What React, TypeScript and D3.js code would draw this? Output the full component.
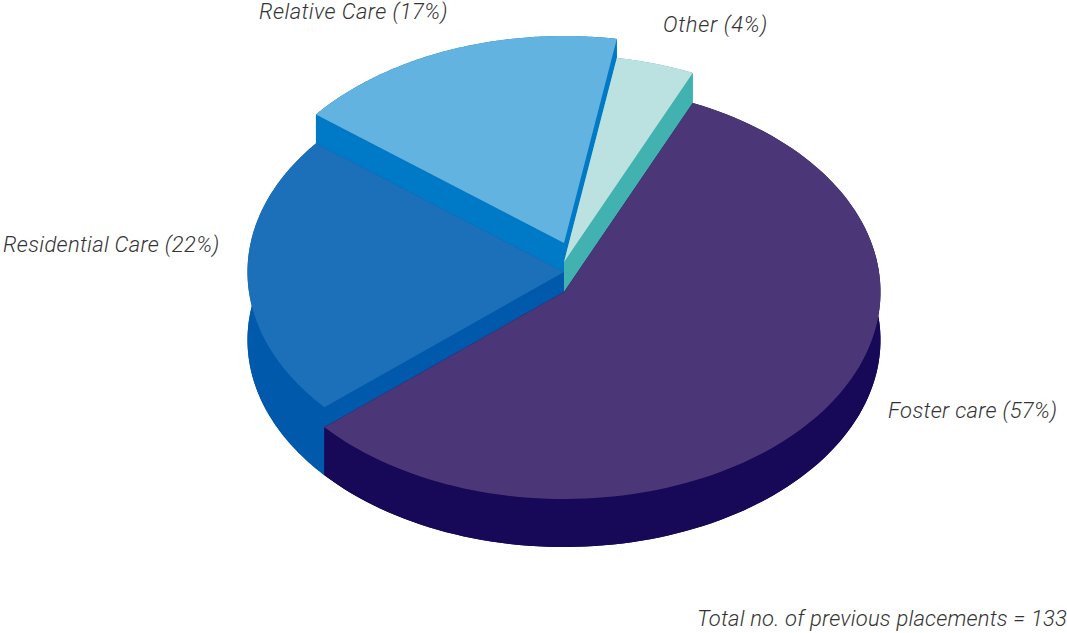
import React from "react";
import * as d3 from "d3";

// Share of previous placements by type, clockwise from the top of the pie.
const categories = ["Other", "Foster care", "Residential Care", "Relative Care"];
const shares = [4, 57, 22, 17];
const sliceLabels = ["Other (4%)", "Foster care (57%)", "Residential Care (22%)", "Relative Care (17%)"];
const footnote = "Total no. of previous placements = 133";

const topColours = ["#bbe2e0", "#4b3778", "#1c70ba", "#63b3e0"];
const sideColours = ["#41b2b0", "#170858", "#0059ab", "#0079c6"];
// How far each slice is pulled upward along the page, in px.
const lifts = [30, 0, 20, 49];
const labelAnchors: [number, number][] = [[663, 32], [888, 418], [3, 252], [259, 19]];
const labelSpacing = [0.7, 0.32, 0.3, 0.42];

const WIDTH = 1067;
const HEIGHT = 633;
const CX = 564;
const CY = 292;
const RX = 316.5;
const RY = 207;
const DEPTH = 48;
const START = (9.6 * Math.PI) / 180;

const slices = d3
  .pie<number>()
  .sort(null)
  .startAngle(START)
  .endAngle(START + 2 * Math.PI)(shares);

const line = d3.line();

// Ellipse point for a pie angle measured clockwise from twelve o'clock.
const onRim = (a: number, dy: number): [number, number] => [
  CX + RX * Math.sin(a),
  CY + dy - RY * Math.cos(a),
];

const rim = (a0: number, a1: number, dy: number) =>
  d3.range(0, 121).map((i) => onRim(a0 + ((a1 - a0) * i) / 120, dy));

const sector = (a0: number, a1: number, dy: number) =>
  line([[CX, CY + dy], ...rim(a0, a1, dy)]) + "Z";

const wall = (a0: number, a1: number, dy: number) =>
  line([...rim(a0, a1, dy), ...rim(a0, a1, DEPTH).reverse()]) + "Z";

const radialWall = (a: number, dy: number) =>
  line([[CX, CY + dy], onRim(a, dy), onRim(a, DEPTH), [CX, CY + DEPTH]]) + "Z";

// Painted back to front so nearer slices cover the walls of those behind.
// Every wall runs down to the same base plane, whatever the slice's lift.
const paintOrder = [3, 0, 2, 1];

const textStyle: React.CSSProperties = {
  fontFamily: "Roboto, 'Liberation Sans', sans-serif",
  fontStyle: "italic",
  fontWeight: 300,
  fontSize: 22,
  letterSpacing: 0.2,
  fill: "#333333",
};

export default function App() {
  return (
    <svg
      width={WIDTH}
      height={HEIGHT}
      viewBox={`0 0 ${WIDTH} ${HEIGHT}`}
      style={{ position: "absolute", left: 0, top: 0, background: "#fff" }}
    >
      {paintOrder.map((i) => {
        const s = slices[i];
        const dy = -lifts[i];
        const side = sideColours[i];
        return (
          <g key={categories[i]}>
            <path d={sector(s.startAngle, s.endAngle, DEPTH)} fill={side} />
            <path d={wall(s.startAngle, s.endAngle, dy)} fill={side} />
            <path d={radialWall(s.startAngle, dy)} fill={side} />
            <path d={radialWall(s.endAngle, dy)} fill={side} />
            <path d={sector(s.startAngle, s.endAngle, dy)} fill={topColours[i]} />
          </g>
        );
      })}
      {sliceLabels.map((t, i) => (
        <text
          key={t}
          x={labelAnchors[i][0]}
          y={labelAnchors[i][1]}
          style={{ ...textStyle, letterSpacing: labelSpacing[i] }}
        >
          {t}
        </text>
      ))}
      <text x={1067} y={626} textAnchor="end" style={textStyle}>
        {footnote}
      </text>
    </svg>
  );
}
